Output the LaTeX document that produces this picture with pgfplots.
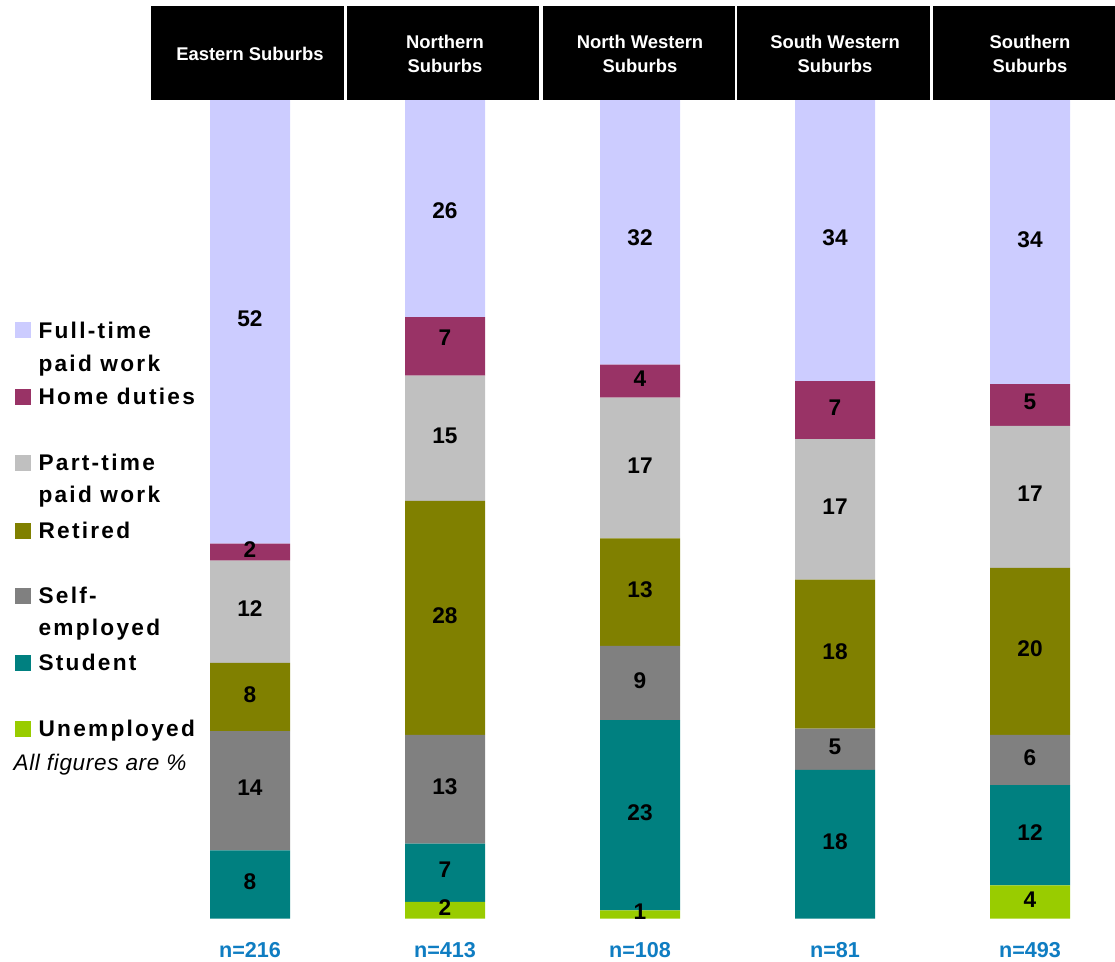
\documentclass[border=0pt]{standalone}
\usepackage{pgfplots}
\pgfplotsset{compat=1.18}
\usepackage{pgfplotstable}
\usepackage{fontspec}
\setmainfont{Liberation Sans}
\newfontfamily\legfont[LetterSpace=10]{Liberation Sans}
\newfontfamily\notefont[LetterSpace=3]{Liberation Sans}

\definecolor{cFull}{HTML}{CCCCFF}
\definecolor{cHome}{HTML}{993366}
\definecolor{cPart}{HTML}{C0C0C0}
\definecolor{cRet}{HTML}{808000}
\definecolor{cSelf}{HTML}{808080}
\definecolor{cStud}{HTML}{008080}
\definecolor{cUnem}{HTML}{99CC00}
\definecolor{nblue}{HTML}{0F7DC2}

% segment heights: share of each bar (reported % rescaled so every bar fills 100)
\pgfplotstableread{
x unem stud self ret part home full
0 0    8.33  14.58 8.33  12.50 2.08 54.17
1 2.04 7.14  13.27 28.57 15.31 7.14 26.53
2 1.01 23.23 9.09  13.13 17.17 4.04 32.32
3 0    18.18 5.05  18.18 17.17 7.07 34.34
4 4.08 12.24 6.12  20.41 17.35 5.10 34.69
}\bars

% label positions (middle of each segment) and the reported figures
\pgfplotstableread{
x y lab
0 4.17 8
0 15.63 14
0 27.08 8
0 37.50 12
0 44.79 2
0 72.92 52
1 1.02 2
1 5.61 7
1 15.82 13
1 36.73 28
1 58.67 15
1 70.60 7
1 86.10 26
2 0.51 1
2 12.63 23
2 28.79 9
2 39.90 13
2 55.05 17
2 65.66 4
2 82.90 32
3 9.09 18
3 20.71 5
3 32.32 18
3 50.00 17
3 62.12 7
3 82.83 34
4 2.04 4
4 10.20 12
4 19.39 6
4 32.65 20
4 51.53 17
4 62.76 5
4 82.65 34
}\labels

\newcommand{\legsq}[2]{\fill[#1] (11.25pt,#2) rectangle ++(12.3pt,12pt);}
\newcommand{\legtxt}[2]{\node[anchor=base west, inner sep=0pt, font=\legfont\bfseries\fontsize{17pt}{17pt}\selectfont] at (28.7pt,#1) {#2};}

\begin{document}
\begin{tikzpicture}
\useasboundingbox (0,0) rectangle (836.25pt,721.5pt);

\begin{axis}[
  at={(114.375pt,32.475pt)}, anchor=south west,
  x=146.25pt, y=6.1403pt,
  xmin=-0.5, xmax=4.5, ymin=0, ymax=100,
  hide axis, clip=false,
  ybar stacked, bar width=60pt,
]
\addplot[fill=cUnem, draw=none] table[x=x, y=unem] {\bars};
\addplot[fill=cStud, draw=none] table[x=x, y=stud] {\bars};
\addplot[fill=cSelf, draw=none] table[x=x, y=self] {\bars};
\addplot[fill=cRet,  draw=none] table[x=x, y=ret]  {\bars};
\addplot[fill=cPart, draw=none] table[x=x, y=part] {\bars};
\addplot[fill=cHome, draw=none] table[x=x, y=home] {\bars};
\addplot[fill=cFull, draw=none] table[x=x, y=full] {\bars};

% sample sizes
\tikzset{nn/.style={anchor=base, text=nblue, inner sep=0pt, font=\bfseries\fontsize{16.2pt}{16.2pt}\selectfont}}
\node[nn] at (axis cs:0,-4.8) {n=216};
\node[nn] at (axis cs:1,-4.8) {n=413};
\node[nn] at (axis cs:2,-4.8) {n=108};
\node[nn] at (axis cs:3,-4.8) {n=81};
\node[nn] at (axis cs:4,-4.8) {n=493};
\end{axis}

\begin{axis}[
  at={(114.375pt,32.475pt)}, anchor=south west,
  x=146.25pt, y=6.1403pt,
  xmin=-0.5, xmax=4.5, ymin=0, ymax=100,
  hide axis, clip=false,
]
\addplot[draw=none, mark=none, nodes near coords, point meta=explicit symbolic,
  every node near coord/.append style={anchor=center, inner sep=0pt, yshift=2pt, text=black,
    font=\bfseries\fontsize{17pt}{17pt}\selectfont}]
  table[x=x, y=y, meta=lab] {\labels};
\end{axis}

% header band
\fill[black] (113.25pt,646.5pt) rectangle (840pt,717pt);
\fill[white] (258pt,646pt) rectangle (260.25pt,718pt);
\fill[white] (404.6pt,646pt) rectangle (406.9pt,718pt);
\fill[white] (550.9pt,646pt) rectangle (553.1pt,718pt);
\fill[white] (697.5pt,646pt) rectangle (699.8pt,718pt);
\tikzset{hd/.style={text=white, align=center, inner sep=0pt, font=\bfseries\fontsize{13.8pt}{18pt}\selectfont}}
\node[hd] at (187.5pt,681.4pt) {Eastern Suburbs};
\node[hd] at (333.75pt,681.4pt) {Northern\\Suburbs};
\node[hd] at (480pt,681.4pt) {North Western\\Suburbs};
\node[hd] at (626.25pt,681.4pt) {South Western\\Suburbs};
\node[hd] at (772.5pt,681.4pt) {Southern\\Suburbs};

% legend
\legsq{cFull}{467.8pt} \legtxt{467.8pt}{Full-time}
\legtxt{443.2pt}{paid work}
\legsq{cHome}{417.75pt} \legtxt{417.75pt}{Home duties}
\legsq{cPart}{368.25pt} \legtxt{368.25pt}{Part-time}
\legtxt{344.25pt}{paid work}
\legsq{cRet}{317.25pt} \legtxt{317.25pt}{Retired}
\legsq{cSelf}{268.5pt} \legtxt{268.5pt}{Self-}
\legtxt{244.5pt}{employed}
\legsq{cStud}{218.25pt} \legtxt{218.25pt}{Student}
\legsq{cUnem}{169pt} \legtxt{169pt}{Unemployed}
\node[anchor=base west, inner sep=0pt, font=\notefont\itshape\fontsize{16.9pt}{16.9pt}\selectfont] at (10pt,143.25pt) {All figures are \%};
\end{tikzpicture}
\end{document}
